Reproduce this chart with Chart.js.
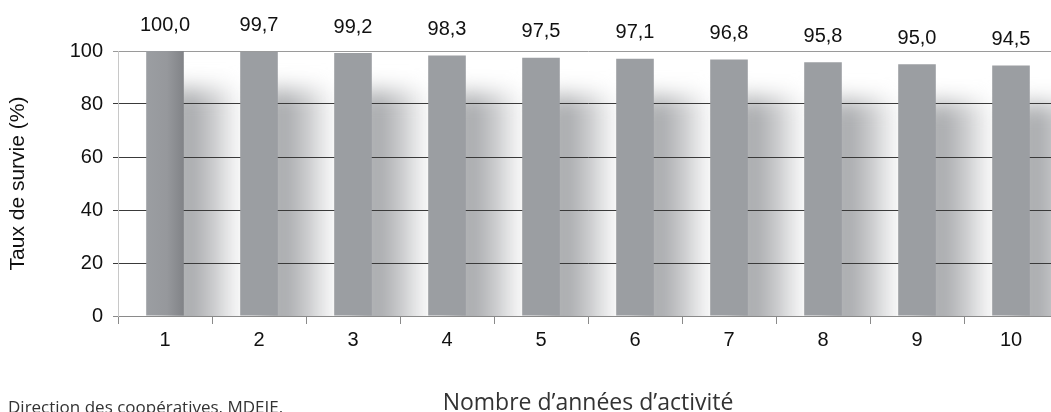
<!DOCTYPE html>
<html>
<head>
<meta charset="utf-8">
<script src="https://cdn.jsdelivr.net/npm/chart.js@4/dist/chart.umd.min.js"></script>
<style>
  html, body { margin: 0; padding: 0; background: #fff; overflow: hidden; }
  #wrap { width: 1060px; height: 412px; }
</style>
</head>
<body>
<div id="wrap"><canvas id="survie-chart"></canvas></div>
<script>
// Données
const annees = ['1', '2', '3', '4', '5', '6', '7', '8', '9', '10'];
const tauxSurvie = [100.0, 99.7, 99.2, 98.3, 97.5, 97.1, 96.8, 95.8, 95.0, 94.5];
const yTicks = [0, 20, 40, 60, 80, 100];

const source = 'Direction des coopératives, MDEIE.';
const fmt = v => v.toFixed(1).replace('.', ',');
const arial = '"Liberation Sans", Arial, sans-serif';
const barPct = 0.4;

// ombre floue à droite de chaque barre
const shadowPlugin = {
  id: 'shadows',
  beforeDraw(chart) {
    const { ctx, chartArea } = chart;
    const meta = chart.getDatasetMeta(0);
    const cat = (chartArea.right - chartArea.left) / annees.length;
    ctx.save();
    ctx.beginPath();
    ctx.rect(chartArea.left, chartArea.top, chartArea.right - chartArea.left, chartArea.bottom - chartArea.top);
    ctx.clip();
    ctx.filter = 'blur(11px)';
    meta.data.forEach(bar => {
      const x0 = bar.x + bar.width / 2;
      const w = cat - bar.width;
      const g = ctx.createLinearGradient(x0, 0, x0 + w, 0);
      g.addColorStop(0, '#a2a4a7');
      g.addColorStop(0.5, '#c6c7c9');
      g.addColorStop(1, '#ffffff');
      ctx.fillStyle = g;
      ctx.fillRect(x0 - 14, bar.y + 38, w + 14, chartArea.bottom - bar.y);
    });
    ctx.restore();
  }
};

const labelPlugin = {
  id: 'valeurs',
  afterDatasetsDraw(chart) {
    const { ctx } = chart;
    const meta = chart.getDatasetMeta(0);
    ctx.save();
    ctx.font = '20px ' + arial;
    ctx.fillStyle = '#111';
    ctx.textAlign = 'center';
    ctx.textBaseline = 'middle';
    meta.data.forEach((bar, i) => {
      ctx.fillText(fmt(tauxSurvie[i]), bar.x, bar.y - 26);
    });
    // source en bas à gauche
    ctx.textAlign = 'left';
    ctx.textBaseline = 'alphabetic';
    ctx.font = '17px "Open Sans", "Noto Sans", sans-serif';
    ctx.fillStyle = '#333';
    ctx.fillText(source, 8, 413);
    ctx.restore();
  }
};

const ctx = document.getElementById('survie-chart').getContext('2d');
new Chart(ctx, {
  type: 'bar',
  data: {
    labels: annees,
    datasets: [{
      data: tauxSurvie,
      backgroundColor: c => {
        const xs = c.chart.scales.x;
        if (c.dataIndex !== 0 || !xs || !c.chart.chartArea) return '#9b9ea2';
        // la première barre est plus sombre sur sa droite
        const cx = xs.getPixelForValue(0);
        const half = (xs.width / annees.length) * barPct / 2;
        if (!Number.isFinite(cx) || !Number.isFinite(half)) return '#9b9ea2';
        const g = c.chart.ctx.createLinearGradient(cx - half, 0, cx + half, 0);
        g.addColorStop(0, '#9b9ea2');
        g.addColorStop(0.55, '#96989c');
        g.addColorStop(1, '#818387');
        return g;
      },
      borderWidth: 0,
      barPercentage: barPct,
      categoryPercentage: 1.0
    }]
  },
  options: {
    responsive: true,
    maintainAspectRatio: false,
    animation: false,
    devicePixelRatio: 1,
    layout: { padding: { top: 51, right: 2, left: 0, bottom: 0 } },
    plugins: {
      legend: { display: false },
      tooltip: { enabled: false }
    },
    scales: {
      x: {
        afterFit: s => { s.height = 96; },
        grid: {
          offset: true,
          drawOnChartArea: false,
          tickLength: 8,
          color: '#8a8a8a'
        },
        border: { color: '#8a8a8a', width: 1 },
        ticks: {
          padding: 4,
          color: '#111',
          font: { family: arial, size: 20 }
        },
        title: {
          display: true,
          text: 'Nombre d’années d’activité',
          color: '#333',
          padding: { top: 0, bottom: -3 },
          font: { family: '"Open Sans", "Noto Sans", sans-serif', size: 23, lineHeight: 1 }
        }
      },
      y: {
        min: 0,
        max: 100,
        afterFit: s => { s.width = 118; },
        afterBuildTicks: s => { s.ticks = yTicks.map(v => ({ value: v })); },
        grid: {
          tickLength: 5,
          color: c => c.tick.value === 100 ? '#9a9a9a' : (c.tick.value === 0 ? '#8a8a8a' : '#3a3a3a')
        },
        border: { color: '#c8c8c8', width: 1 },
        ticks: {
          padding: 10,
          color: '#111',
          font: { family: arial, size: 20 }
        },
        title: {
          display: true,
          text: 'Taux de survie (%)',
          color: '#111',
          padding: { top: 6, bottom: 0 },
          font: { family: arial, size: 21 }
        }
      }
    }
  },
  plugins: [shadowPlugin, labelPlugin]
});
</script>
</body>
</html>
